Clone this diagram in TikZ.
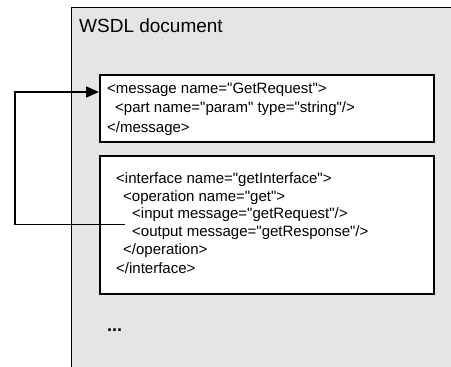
\documentclass[tikz,border=0pt]{standalone}
\usepackage{fontspec}
\setmainfont{Liberation Sans}[Ligatures=TeXOff]
\usetikzlibrary{arrows.meta}
\definecolor{docgray}{HTML}{E5E5E5}
\tikzset{
  outerbox/.style={draw=black, line width=1.3pt, fill=docgray},
  codebox/.style={draw=black, line width=1.7pt, fill=white, inner sep=0pt, anchor=north west},
  code/.style={anchor=base west, inner sep=0pt, font=\fontsize{15}{17}\selectfont},
  title/.style={anchor=base west, inner sep=0pt, font=\fontsize{19}{22}\selectfont},
  conn/.style={draw=black, line width=1.6pt},
}
\begin{document}
\begin{tikzpicture}[x=1pt,y=-1pt]
\useasboundingbox (0,0) rectangle (451,367);
\begin{scope}
\clip (0,0) rectangle (451,367);
\node[outerbox, anchor=north west, minimum width=400pt, minimum height=380pt, inner sep=0pt] (doc) at (71,7) {};
\end{scope}
\node[title] (t) at (79,32) {WSDL document};
\node[codebox, minimum width=334pt, minimum height=67pt] (msg) at (99,74) {};
\node[codebox, minimum width=334pt, minimum height=138pt] (intf) at (99,155) {};
\node[code] (m1) at (107,93) {<message name="GetRequest">};
\node[code] (m2) at (115,112.5) {<part name="param" type="string"/>};
\node[code] (m3) at (107,132) {</message>};
\node[code] (i1) at (116,183) {<interface name="getInterface">};
\node[code] (i2) at (123,201) {<operation name="get">};
\node[code] (i3) at (132,218.5) {<input message="getRequest"/>};
\node[code] (i4) at (132,236) {<output message="getResponse"/>};
\node[code] (i5) at (123,254) {</operation>};
\node[code] (i6) at (116,273) {</interface>};
\node[anchor=base west, inner sep=0pt, font=\fontsize{18}{20}\selectfont\bfseries] (dots) at (107,331) {...};
\coordinate (c1) at (15,92);
\coordinate (s) at ([xshift=-7pt,yshift=-6pt]i3.base west);
\draw[conn, -{Triangle[length=13pt,width=11pt]}] (s) -| (c1) -- (c1 -| msg.west);
\end{tikzpicture}
\end{document}
